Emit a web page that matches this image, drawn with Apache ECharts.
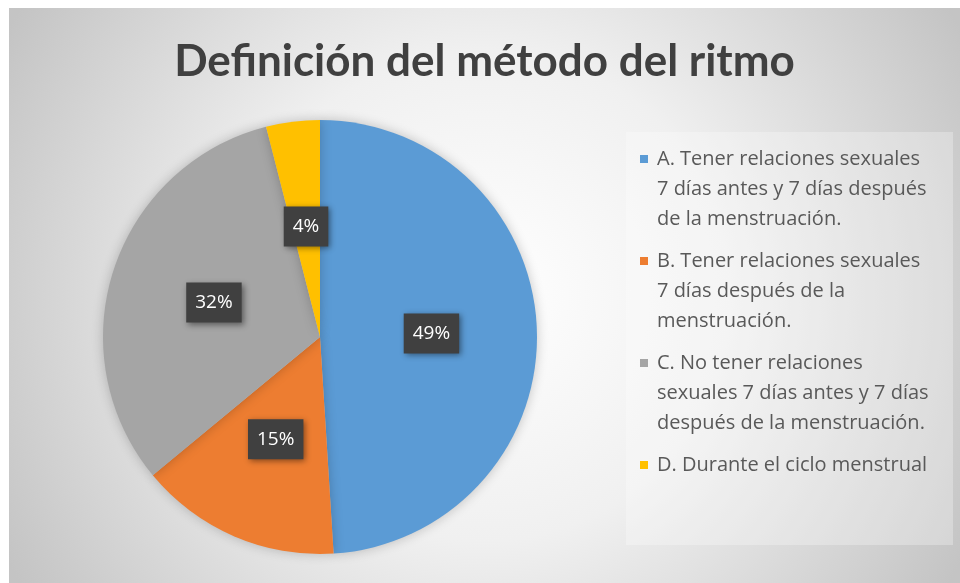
<!DOCTYPE html>
<html>
<head>
<meta charset="utf-8">
<script src="https://cdn.jsdelivr.net/npm/echarts@6/dist/echarts.min.js"></script>
<style>
  html, body { margin: 0; padding: 0; background: #fff; }
  #chart { position: absolute; left: 9px; top: 8px; width: 951px; height: 575px; }
</style>
</head>
<body>
<div id="chart"></div>
<script>
const titleText = "Definición del método del ritmo";
const categories = [
  "A. Tener relaciones sexuales 7 días antes y 7 días después de la menstruación.",
  "B. Tener relaciones sexuales 7 días después de la menstruación.",
  "C. No tener relaciones sexuales 7 días antes y 7 días después de la menstruación.",
  "D. Durante el ciclo menstrual"
];
const legendLines = [
  ["A. Tener relaciones sexuales", "7 días antes y 7 días después", "de la menstruación."],
  ["B. Tener relaciones sexuales", "7 días después de la", "menstruación."],
  ["C. No tener relaciones", "sexuales 7 días antes y 7 días", "después de la menstruación."],
  ["D. Durante el ciclo menstrual"]
];
const values = [49, 15, 32, 4];
const colors = ["#5b9bd5", "#ed7d31", "#a5a5a5", "#ffc000"];

const chart = echarts.init(document.getElementById("chart"));

const markerRich = {};
colors.forEach((c, i) => {
  markerRich["m" + i] = { width: 8, height: 8, backgroundColor: c, align: "left" };
});

chart.setOption({
  backgroundColor: {
    type: "radial", x: 0.5, y: 0.5, r: 0.95,
    colorStops: [
      { offset: 0, color: "#ffffff" },
      { offset: 0.45, color: "#f0f0f0" },
      { offset: 1, color: "#c4c4c4" }
    ]
  },
  textStyle: { fontFamily: "'Open Sans', sans-serif" },
  title: {
    text: titleText,
    left: "center",
    top: 27,
    textStyle: { fontSize: 44, fontWeight: "bold", color: "#404040", fontFamily: "Lato" }
  },
  graphic: [{
    type: "rect",
    left: 617, top: 124,
    shape: { width: 327, height: 413 },
    style: { fill: "rgba(255,255,255,0.28)" },
    silent: true
  }],
  legend: {
    orient: "vertical",
    left: 621, top: 136,
    icon: "none",
    itemGap: 22,
    itemWidth: 0,
    selectedMode: false,
    data: categories,
    formatter(name) {
      const i = categories.indexOf(name);
      return legendLines[i].map((line, k) =>
        (k === 0 ? "{m" + i + "|}{gap|}" : "{ind|}") + "{t|" + line + "}"
      ).join("\n");
    },
    textStyle: {
      rich: Object.assign({
        t: { fontSize: 20, color: "#595959", lineHeight: 30, fontFamily: "'Open Sans'" },
        gap: { width: 9 },
        ind: { width: 17 }
      }, markerRich)
    }
  },
  series: [{
    type: "pie",
    center: [311, 329],
    radius: 217,
    startAngle: 90,
    clockwise: true,
    data: categories.map((name, i) => ({ name, value: values[i], itemStyle: { color: colors[i] } })),
    itemStyle: { borderWidth: 0, shadowBlur: 12, shadowColor: "rgba(0,0,0,0.22)" },
    label: {
      position: "inside",
      formatter: "{d}%",
      color: "#ffffff",
      fontSize: 19,
      fontFamily: "'Open Sans'",
      backgroundColor: "#404040",
      padding: [11, 9, 10, 9],
      shadowBlur: 6,
      shadowColor: "rgba(0,0,0,0.45)",
      shadowOffsetX: 2,
      shadowOffsetY: 2
    },
    labelLine: { show: false },
    emphasis: { disabled: true }
  }]
});
</script>
</body>
</html>
